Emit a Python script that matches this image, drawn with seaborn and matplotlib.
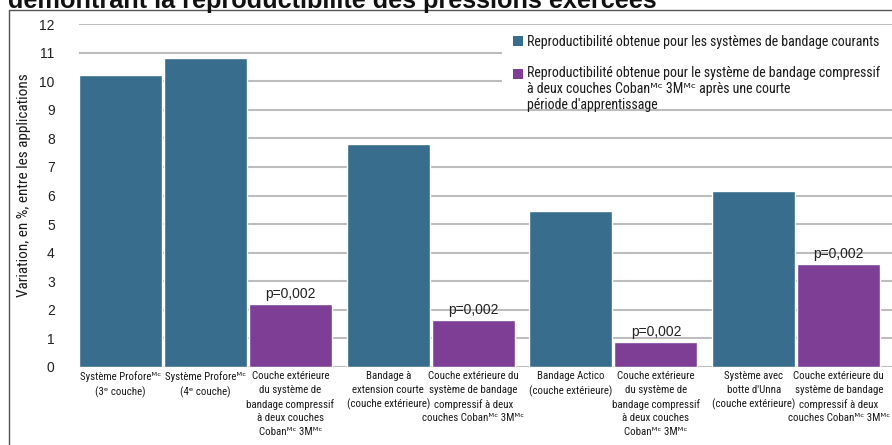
import matplotlib
matplotlib.use("Agg")
import matplotlib.pyplot as plt
from matplotlib import font_manager
from matplotlib.patches import Patch, Rectangle
from matplotlib.legend_handler import HandlerPatch
from matplotlib.lines import Line2D
import seaborn as sns
import pandas as pd

MC = "\u1d39\u1d9c"   # superscript "MC"
SUP_E = "\u1d49"      # superscript "e"

# ---------------- data ----------------
categories = [
    f"Système Profore{MC}\n(3{SUP_E} couche)",
    f"Système Profore{MC}\n(4{SUP_E} couche)",
    f"Couche extérieure\ndu système de\nbandage compressif\nà deux couches\nCoban{MC} 3M{MC}",
    "Bandage à\nextension courte\n(couche extérieure)",
    f"Couche extérieure du\nsystème de bandage\ncompressif à deux\ncouches Coban{MC} 3M{MC}",
    "Bandage Actico\n(couche extérieure)",
    f"Couche extérieure\ndu système de\nbandage compressif\nà deux couches\nCoban{MC} 3M{MC}",
    "Système avec\nbotte d'Unna\n(couche extérieure)",
    f"Couche extérieure du\nsystème de bandage\ncompressif à deux\ncouches Coban{MC} 3M{MC}",
]
values = [10.2, 10.8, 2.2, 7.8, 1.65, 5.45, 0.88, 6.15, 3.6]
series_of_bar = ["courant", "courant", "coban", "courant", "coban",
                 "courant", "coban", "courant", "coban"]
group_of_bar = [0, 0, 0, 1, 1, 2, 2, 3, 3]
series_labels = {
    "courant": "Reproductibilité obtenue pour les systèmes de bandage courants",
    "coban": "Reproductibilité obtenue pour le système de bandage compressif\n"
             f"à deux couches Coban{MC} 3M{MC} après une courte\n"
             "période d'apprentissage",
}
p_label = "p=0,002"
y_ticks = list(range(0, 13))
y_label = "Variation, en %, entre les applications"
title = "démontrant la reproductibilité des pressions exercées"

# ---------------- fonts ----------------
def has_font(name):
    try:
        font_manager.findfont(font_manager.FontProperties(family=name),
                              fallback_to_default=False)
        return True
    except Exception:
        return False

narrow = next((f for f in ["Liberation Sans Narrow", "Roboto Condensed",
                           "Liberation Sans"] if has_font(f)), "DejaVu Sans")
regular = "Liberation Sans" if has_font("Liberation Sans") else "DejaVu Sans"

sns.set_style("white")
plt.rcParams["font.family"] = [narrow, "DejaVu Sans"]

blue = "#386d8d"
purple = "#7e3e96"
grid_c = "#bdbdbd"
palette = {"courant": blue, "coban": purple}

# positions: groups separated by a small gap
gap = 0.15
pos = [i + g * gap for i, g in enumerate(group_of_bar)]

df = pd.DataFrame({"pos": pos, "val": values, "series": series_of_bar})

W, H = 892, 445
fig = plt.figure(figsize=(W / 100, H / 100), dpi=100)
ax = fig.add_axes([79 / W, 78 / H, 813 / W, 343 / H])

sns.barplot(data=df, x="pos", y="val", hue="series", palette=palette,
            native_scale=True, dodge=False, width=0.976, legend=False,
            saturation=1, ax=ax, zorder=3)

ax.set_xlim(-0.488, pos[-1] + 0.627)
ax.set_ylim(0, 12)
ax.set_yticks(y_ticks)
ax.set_yticklabels([str(t) for t in y_ticks], fontsize=10, family=regular,
                   color="#222222")
ax.yaxis.grid(True, color=grid_c, linewidth=1.5, zorder=0)
ax.xaxis.grid(False)
ax.set_axisbelow(True)
for s in ax.spines.values():
    s.set_visible(False)
ax.tick_params(axis="y", length=11.5, width=1.1, color=grid_c, pad=6)
ax.tick_params(axis="x", length=0, pad=3)
ax.set_xticks(pos)
ax.set_xticklabels(categories, fontsize=7.8, linespacing=1.45,
                   color="#1a1a1a", va="top",
                   family=[narrow, "DejaVu Sans"])
ax.set_xlabel("")
ax.set_ylabel(y_label, fontsize=11, color="#1a1a1a")
ax.yaxis.set_label_coords(-0.059, 0.53)

# p-value annotations
for x, v, s in zip(pos, values, series_of_bar):
    if s == "coban":
        ax.text(x, v + 0.1, p_label, ha="center", va="bottom",
                fontsize=10, family=regular, color="#222222", zorder=5)

# white background behind the legend (hides the gridlines there)
ax.add_patch(Rectangle(((502 - 79) / 813, (367 - 107) / 343),
                       1 - (502 - 79) / 813, (107 - 28) / 343,
                       transform=ax.transAxes, facecolor="white",
                       edgecolor="none", zorder=1.5, clip_on=False))

# legend
class TopHandler(HandlerPatch):
    def __init__(self, shift=0.0, **kw):
        super().__init__(**kw)
        self.shift = shift

    def create_artists(self, legend, orig_handle, xdescent, ydescent,
                       width, height, fontsize, trans):
        p = Rectangle((-xdescent, -ydescent + self.shift), width, height,
                      facecolor=orig_handle.get_facecolor(), edgecolor="none",
                      transform=trans)
        return [p]

h1 = Patch(facecolor=blue, edgecolor="none")
h2 = Patch(facecolor=purple, edgecolor="none")
leg = ax.legend(
    [h1, h2], [series_labels["courant"], series_labels["coban"]],
    loc="upper right", bbox_to_anchor=((884 - 79) / 813, (367 - 31) / 343),
    fontsize=10, frameon=False, handlelength=0.72, handleheight=0.72,
    handletextpad=0.3, labelspacing=1.22, borderpad=0.3, borderaxespad=0,
    handler_map={h1: TopHandler(0.0), h2: TopHandler(11.2)},
)
for t in leg.get_texts():
    t.set_color("#1a1a1a")
    t.set_linespacing(1.17)
    t.set_family([narrow, "DejaVu Sans"])
leg.set_zorder(6)

# frame border and cut title
fig.add_artist(Line2D([9 / W, 9 / W], [-0.1, 1 - 10 / H], transform=fig.transFigure,
                      color="#555555", linewidth=1.0))
fig.add_artist(Line2D([9 / W, 1.1], [1 - 10 / H, 1 - 10 / H], transform=fig.transFigure,
                      color="#555555", linewidth=1.0))
fig.text(8 / W, 1 - 8 / H, title, fontsize=18.2, fontweight="bold",
         family=regular, color="#111111", ha="left", va="baseline")

fig.savefig("out.png", dpi=100)
